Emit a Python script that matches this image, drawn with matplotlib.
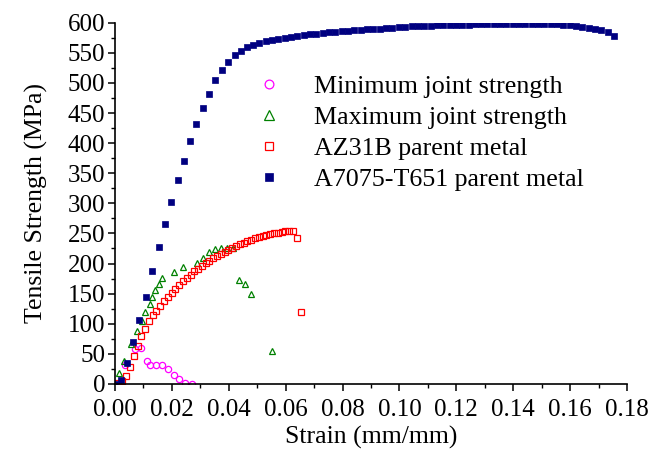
import matplotlib
matplotlib.use('Agg')
import matplotlib.pyplot as plt
from matplotlib.ticker import MultipleLocator, FormatStrFormatter

# minimum joint strength (magenta circles)
min_x = [0.0034, 0.0069, 0.0092, 0.0113, 0.0124, 0.0144, 0.0164, 0.0185, 0.0206, 0.0226, 0.0247, 0.0270]
min_y = [32, 58, 60, 38, 32, 31, 31, 25, 15, 8, 1, 0.5]

# maximum joint strength (green triangles)
max_x = [0.0015, 0.0033, 0.0058, 0.0078, 0.0096, 0.0107, 0.0122, 0.0131, 0.0142, 0.0154, 0.0164,
         0.0207, 0.0238, 0.0290, 0.0310, 0.0332, 0.0352, 0.0374, 0.0395, 0.0416,
         0.0436, 0.0457, 0.0477, 0.0553]
max_y = [18, 39, 66, 88, 105, 120, 132, 144, 156, 166, 176,
         186, 194, 201, 209, 219, 224, 225, 226.5, 226.5,
         173, 165.5, 149, 54]

# AZ31B parent metal (red open squares)
az_x = [0.0009, 0.0023, 0.0039, 0.0053, 0.0067, 0.0081, 0.0093, 0.0105, 0.0120, 0.0134,
        0.0145, 0.0158, 0.0172, 0.0186, 0.0199, 0.0212, 0.0225, 0.0238, 0.0252, 0.0266,
        0.0279, 0.0292, 0.0306, 0.0319, 0.0332, 0.0346, 0.0359, 0.0372, 0.0386, 0.0398,
        0.0412, 0.0425, 0.0438, 0.0452, 0.0465, 0.0478, 0.0492, 0.0505, 0.0519, 0.0532,
        0.0545, 0.0559, 0.0572, 0.0586, 0.0599, 0.0613, 0.0626, 0.0639, 0.0653]
az_y = [1, 4.5, 14, 28, 46, 63, 79, 92, 104, 114,
        122, 130, 137, 145, 151, 158, 165, 171, 176.7, 181.7,
        187.3, 191.7, 196.7, 201, 205, 208.9, 212.7, 216.6, 219.9, 223.2,
        226.5, 229.9, 232.7, 234.8, 237.7, 239.8, 242, 244.3, 246, 247.6,
        248.7, 250.4, 251.5, 252.6, 253.7, 253.7, 254.3, 243, 119]

# A7075-T651 parent metal (navy filled squares)
al_x = [0.0, 0.0020, 0.0043, 0.0063, 0.0086, 0.0109, 0.0131, 0.0154, 0.0176, 0.0197,
        0.0220, 0.0243, 0.0264, 0.0286, 0.0308, 0.0330, 0.0353, 0.0376, 0.0398, 0.0421,
        0.0443, 0.0464, 0.0486, 0.0507, 0.0530, 0.0552, 0.0574, 0.0597, 0.0619, 0.0641,
        0.0663, 0.0686, 0.0708, 0.0730, 0.0752, 0.0775, 0.0797, 0.0819, 0.0841, 0.0864,
        0.0886, 0.0908, 0.0930, 0.0953, 0.0975, 0.0997, 0.1021, 0.1043, 0.1065, 0.1088,
        0.1110, 0.1132, 0.1154, 0.1177, 0.1199, 0.1221, 0.1243, 0.1264, 0.1287, 0.1309,
        0.1331, 0.1353, 0.1376, 0.1398, 0.1420, 0.1443, 0.1465, 0.1487, 0.1509, 0.1532,
        0.1554, 0.1576, 0.1598, 0.1621, 0.1643, 0.1665, 0.1688, 0.1710, 0.1732, 0.1753]
al_y = [0, 7, 35, 70, 106, 145, 187, 227, 265, 302,
        338, 371, 403, 432, 458, 482, 504, 522, 535, 547,
        553, 559, 563, 566, 569, 571, 573, 574.5, 576, 578,
        579.5, 580.6, 581.7, 582.8, 583.9, 584.5, 585.6, 586.7, 587.2, 588.3,
        588.9, 589.4, 590, 591, 591.7, 592.2, 592.8, 593.9, 593.9, 595,
        595, 595.5, 595.5, 596, 596, 596.6, 596.6, 597.2, 597.2, 597.7,
        597.7, 597.7, 597.7, 597.7, 597.7, 597.7, 597.7, 597.7, 597.7, 597.2,
        597.2, 596.6, 596, 595, 593.3, 591.6, 590, 587.7, 584.4, 578.4]

plt.rcParams['font.family'] = 'Liberation Serif'

fig = plt.figure(figsize=(6.62, 4.5), dpi=100)
ax = fig.add_axes([0.1737, 0.1467, 0.7734, 0.8029])

ax.plot(min_x, min_y, linestyle='none', marker='o', ms=4.5, mfc='none', mec='#ff00ff', mew=0.9,
        label='Minimum joint strength')
ax.plot(max_x, max_y, linestyle='none', marker='^', ms=5.0, mfc='none', mec='#008000', mew=0.9,
        label='Maximum joint strength')
ax.plot(az_x, az_y, linestyle='none', marker='s', ms=3.8, mfc='none', mec='#ff0000', mew=0.9,
        label='AZ31B parent metal')
ax.plot(al_x, al_y, linestyle='none', marker='s', ms=4.0, mfc='#000080', mec='#000080', mew=0.5,
        label='A7075-T651 parent metal')

ax.set_xlim(0, 0.18)
ax.set_ylim(0, 600)
ax.xaxis.set_major_locator(MultipleLocator(0.02))
ax.xaxis.set_minor_locator(MultipleLocator(0.01))
ax.xaxis.set_major_formatter(FormatStrFormatter('%.2f'))
ax.yaxis.set_major_locator(MultipleLocator(50))
ax.yaxis.set_minor_locator(MultipleLocator(25))

for s in ['top', 'right']:
    ax.spines[s].set_visible(False)
for s in ['left', 'bottom']:
    ax.spines[s].set_linewidth(1.2)

ax.tick_params(which='major', direction='out', length=5, width=1.1, labelsize=18)
ax.tick_params(axis='x', which='major', pad=5.5)
ax.tick_params(axis='y', which='major', pad=2)
ax.tick_params(which='minor', direction='out', length=3, width=1.0)

ax.set_xlabel('Strain (mm/mm)', fontsize=18.5, labelpad=4)
ax.set_ylabel('Tensile Strength (MPa)', fontsize=18.5, labelpad=14)

leg = ax.legend(loc='upper left', bbox_to_anchor=(0.2505, 0.884), frameon=False, fontsize=18.75,
                handlelength=1.2, handletextpad=1.1, labelspacing=0.3, markerscale=1.4,
                borderaxespad=0)

fig.savefig('out.png', dpi=100)
